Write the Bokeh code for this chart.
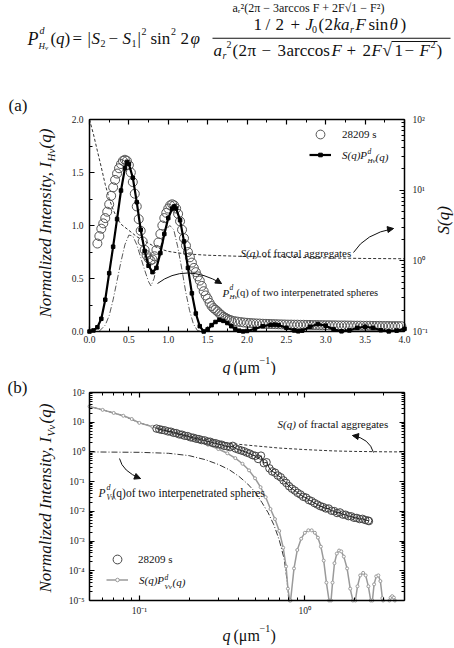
import math
from bokeh.plotting import figure
from bokeh.models import (Range1d, LogScale, LinearAxis, LogAxis, FixedTicker,
                          SingleIntervalTicker, PrintfTickFormatter,
                          CustomJSTickFormatter, Label, Legend, LegendItem, Arrow,
                          NormalHead, BoxAnnotation)
from bokeh.layouts import column
from bokeh.embed import file_html
from bokeh.resources import INLINE

FONT = "Liberation Serif, Times New Roman, serif"
INK = "#111111"
NAN = float("nan")

# ---------------- panel (a) data ----------------
qa_data = [0.100, 0.125, 0.150, 0.175, 0.200, 0.225, 0.250, 0.275, 0.300, 0.325,
           0.350, 0.375, 0.400, 0.425, 0.450, 0.475, 0.500, 0.525, 0.550, 0.575,
           0.600, 0.625, 0.650, 0.675, 0.700, 0.725, 0.750, 0.775, 0.800, 0.825,
           0.850, 0.875, 0.900, 0.925, 0.950, 0.975, 1.000, 1.025, 1.050, 1.075,
           1.100, 1.125, 1.150, 1.175, 1.200, 1.225, 1.250, 1.275, 1.300, 1.325,
           1.350, 1.375, 1.400, 1.425, 1.450, 1.475, 1.500, 1.525, 1.550, 1.575,
           1.600, 1.625, 1.650, 1.675, 1.700, 1.725, 1.750, 1.775, 1.800,
           1.84, 1.88, 1.92, 1.96, 2.00, 2.04, 2.08, 2.12, 2.16, 2.20,
           2.24, 2.28, 2.32, 2.36, 2.40, 2.44, 2.48, 2.52, 2.56, 2.60,
           2.64, 2.68, 2.72, 2.76, 2.80, 2.84, 2.88, 2.92, 2.96, 3.00,
           3.04, 3.08, 3.12, 3.16, 3.20, 3.24, 3.28, 3.32, 3.36, 3.40,
           3.44, 3.48, 3.52, 3.56, 3.60, 3.64, 3.68, 3.72, 3.76, 3.80,
           3.84, 3.88, 3.92, 3.96]
Ia_data = [0.83, 0.90, 0.97, 1.02, 1.07, 1.13, 1.20, 1.28, 1.36, 1.43,
           1.49, 1.54, 1.58, 1.61, 1.62, 1.61, 1.57, 1.50, 1.41, 1.30,
           1.18, 1.06, 0.95, 0.85, 0.77, 0.72, 0.69, 0.67, 0.68, 0.71,
           0.77, 0.84, 0.92, 1.00, 1.07, 1.12, 1.16, 1.19, 1.20, 1.19,
           1.16, 1.11, 1.04, 0.96, 0.88, 0.81, 0.75, 0.70, 0.65, 0.60,
           0.56, 0.52, 0.48, 0.43, 0.38, 0.34, 0.31, 0.27, 0.24, 0.22,
           0.205, 0.19, 0.17, 0.155, 0.14, 0.13, 0.12, 0.11, 0.105,
           0.098, 0.093, 0.089, 0.085, 0.082, 0.080, 0.078, 0.076, 0.075, 0.073,
           0.072, 0.071, 0.070, 0.069, 0.068, 0.067, 0.066, 0.065, 0.065, 0.064,
           0.064, 0.063, 0.063, 0.062, 0.062, 0.061, 0.061, 0.060, 0.060, 0.059,
           0.059, 0.058, 0.058, 0.057, 0.057, 0.057, 0.056, 0.056, 0.055, 0.055,
           0.055, 0.054, 0.054, 0.054, 0.053, 0.053, 0.053, 0.052, 0.052, 0.052,
           0.051, 0.051, 0.051, 0.050]

qa_fit = [0.0, 0.05, 0.1, 0.15, 0.2, 0.25, 0.3, 0.35, 0.4, 0.45,
          0.475, 0.5, 0.55, 0.6, 0.65, 0.7, 0.75, 0.8, 0.85, 0.9,
          0.95, 1.0, 1.05, 1.075, 1.1, 1.15, 1.2, 1.25, 1.3, 1.35,
          1.4, 1.45, 1.5, 1.55, 1.6, 1.65, 1.7, 1.75, 1.8, 1.85,
          1.9, 1.95, 2.0, 2.1, 2.2, 2.3, 2.35, 2.4, 2.5, 2.6,
          2.65, 2.7, 2.8, 2.9, 3.0, 3.1, 3.2, 3.3, 3.4, 3.5,
          3.6, 3.7, 3.8, 3.9, 4.0]
Ia_fit = [0.0, 0.01, 0.04, 0.12, 0.3, 0.55, 0.8, 1.06, 1.33, 1.54,
          1.6, 1.58, 1.45, 1.22, 0.96, 0.76, 0.62, 0.56, 0.6, 0.74,
          0.92, 1.07, 1.16, 1.18, 1.16, 1.05, 0.85, 0.6, 0.36, 0.17,
          0.05, 0.0, 0.02, 0.06, 0.09, 0.11, 0.1, 0.08, 0.05, 0.025,
          0.008, 0.001, 0.005, 0.025, 0.05, 0.063, 0.065, 0.06, 0.035, 0.01,
          0.002, 0.008, 0.045, 0.07, 0.055, 0.02, 0.002, 0.01, 0.035, 0.045,
          0.035, 0.012, 0.001, 0.008, 0.025]

qa_S = [0.0, 0.05, 0.1, 0.15, 0.2, 0.25, 0.3, 0.35, 0.4, 0.5, 0.6,
        0.7, 0.8, 0.9, 1.0, 1.2, 1.5, 2.0, 2.5, 3.0, 3.5, 4.0]
Sa = [100, 62, 36, 21, 12, 7.6, 5.3, 4.0, 3.3, 2.7, 2.2,
      1.9, 1.65, 1.47, 1.36, 1.26, 1.2, 1.15, 1.12, 1.1, 1.08, 1.07]

qa_P = [0.12, 0.2, 0.25, 0.3, 0.35, 0.4, 0.45, 0.5, 0.55, 0.6, 0.65, 0.7, 0.75, 0.78,
        0.82, 0.87, 0.92, 0.97, 1.02, 1.07, 1.12, 1.17, 1.22, 1.27, 1.32, 1.37, 1.42]
Pa = [0.0, 0.06, 0.15, 0.3, 0.48, 0.66, 0.82, 0.91, 0.9, 0.82, 0.7, 0.58, 0.47, 0.43,
      0.5, 0.68, 0.85, 0.96, 1.0, 0.96, 0.8, 0.6, 0.38, 0.2, 0.07, 0.01, 0.0]

# ---------------- panel (b) data ----------------
qb_data = [0.127, 0.132, 0.137, 0.143, 0.149, 0.155, 0.161, 0.167, 0.174, 0.181,
           0.188, 0.196, 0.204, 0.212, 0.220, 0.229, 0.238, 0.248, 0.258, 0.268,
           0.279, 0.290, 0.302, 0.314, 0.326, 0.339, 0.353, 0.367, 0.382, 0.397,
           0.413, 0.429, 0.446, 0.464, 0.483, 0.502, 0.522, 0.543, 0.565, 0.587,
           0.611, 0.635, 0.661, 0.687, 0.715, 0.743, 0.773, 0.804, 0.836, 0.870,
           0.904, 0.941, 0.978, 1.017, 1.058, 1.100, 1.144, 1.190, 1.238, 1.287,
           1.339, 1.392, 1.448, 1.506, 1.566, 1.629, 1.694, 1.762, 1.832, 1.906,
           1.982, 2.061, 2.144, 2.229, 2.318, 2.411, 2.44]
Ib_data = [6.1, 5.8, 5.5, 5.3, 4.9, 4.8, 4.4, 4.3, 3.9, 3.8,
           3.5, 3.4, 3.1, 3.0, 2.8, 2.7, 2.5, 2.45, 2.25, 2.2,
           2.0, 1.95, 1.8, 1.75, 1.6, 1.55, 1.45, 1.6, 1.3, 1.2,
           1.12, 1.05, 0.95, 0.88, 0.78, 0.74, 0.58, 0.75, 0.42, 0.45,
           0.28, 0.22, 0.2, 0.16, 0.14, 0.11, 0.09, 0.07, 0.058, 0.05,
           0.042, 0.037, 0.031, 0.029, 0.024, 0.022, 0.019, 0.017, 0.015, 0.014,
           0.0125, 0.0125, 0.0105, 0.0102, 0.0088, 0.0092, 0.0078, 0.0077, 0.0069, 0.0068,
           0.0061, 0.006, 0.0055, 0.0056, 0.0051, 0.0049, 0.0047]

# S(q)P(q) model: main branch, then the side lobes (NaN separates the lobes)
qb_fit = [0.05, 0.06, 0.07, 0.08, 0.09, 0.10, 0.12, 0.14, 0.16, 0.18,
          0.20, 0.23, 0.26, 0.30, 0.34, 0.38, 0.42, 0.46, 0.50, 0.54,
          0.58, 0.62, 0.66, 0.70, 0.74, 0.77, 0.79, 0.81, NAN,
          0.82, 0.86, 0.90, 0.95, 1.00, 1.05, 1.10, 1.15, 1.20, 1.25, 1.30, 1.35, 1.40, NAN,
          1.44, 1.47, 1.51, 1.56, 1.61, 1.66, 1.72, 1.80, 1.88, 1.95, NAN,
          2.02, 2.08, 2.16, 2.25, 2.33, 2.42, 2.50, NAN,
          2.56, 2.62, 2.70, 2.78, 2.86, 2.94, 2.97, NAN,
          3.24, 3.30, 3.37, 3.45, 3.50]
Ib_fit = [34, 26, 20.5, 16.5, 12.8, 9.5, 7.0, 5.5, 4.4, 3.6,
          3.0, 2.3, 1.75, 1.25, 0.9, 0.62, 0.4, 0.24, 0.13, 0.065,
          0.03, 0.012, 0.0055, 0.0022, 6e-4, 1.4e-4, 2.5e-5, 1e-5, NAN,
          1e-5, 1.2e-4, 5e-4, 1.2e-3, 1.9e-3, 2.3e-3, 2.3e-3, 1.9e-3, 1.3e-3, 6.5e-4, 2.2e-4, 4e-5, 1e-5, NAN,
          1e-5, 4e-5, 1.8e-4, 3.8e-4, 4.8e-4, 4.5e-4, 3e-4, 1.2e-4, 2.5e-5, 1e-5, NAN,
          1e-5, 3e-5, 7e-5, 8.5e-5, 7e-5, 3e-5, 1e-5, NAN,
          1e-5, 3.5e-5, 6.5e-5, 7e-5, 4.5e-5, 1.2e-5, 1e-5, NAN,
          1e-5, 1.25e-5, 1.4e-5, 1.25e-5, 1e-5]

qb_S = [0.05, 0.06, 0.07, 0.08, 0.1, 0.12, 0.15, 0.2, 0.25, 0.3, 0.4, 0.5, 0.7, 1.0, 1.5, 2.0, 3.0, 4.0]
Sb = [34, 26, 20.5, 16.5, 9.5, 7.2, 5.2, 3.5, 2.7, 2.2, 1.8, 1.6, 1.35, 1.2, 1.08, 1.04, 1.01, 1.0]

qb_P = [0.05, 0.1, 0.15, 0.2, 0.25, 0.3, 0.35, 0.4, 0.45, 0.5, 0.55, 0.6, 0.65, 0.7, 0.75, 0.78, 0.80]
Pb = [1.0, 0.97, 0.9, 0.75, 0.55, 0.38, 0.25, 0.15, 0.085, 0.045, 0.02, 0.009, 0.0035, 0.0011,
      2.5e-4, 5e-5, 1e-5]

# ---------------- geometry (page pixels) ----------------
W = 454
FL, FR = 89, 404                 # plot box left/right
A_Y0, A_Y1 = 95, 375             # canvas of panel (a)
A_TOP, A_BOT = 119, 331          # plot box of panel (a)
B_Y0, B_Y1 = 375, 648            # canvas of panel (b)
B_TOP, B_BOT = 392, 600          # plot box of panel (b)
LX0, LX1 = math.log10(0.05), math.log10(4.0)


def A(px, py):
    return ((px - FL) * 4.0 / (FR - FL), (A_BOT - py) * 2.0 / (A_BOT - A_TOP))


def A_S(py):
    return 10 ** (-1 + (A_BOT - py) * 3.0 / (A_BOT - A_TOP))


def B(px, py):
    lx = LX0 + (px - FL) / (FR - FL) * (LX1 - LX0)
    ly = -5 + (B_BOT - py) / (B_BOT - B_TOP) * 7
    return (10 ** lx, 10 ** ly)


def txt(p, xy, text, size, italic=False, angle=0.0, align="left"):
    p.add_layout(Label(x=xy[0], y=xy[1], text=text, text_font=FONT,
                       text_font_size=f"{size}px",
                       text_font_style="italic" if italic else "normal",
                       angle=angle, text_align=align, text_baseline="middle",
                       text_color=INK))


SUP_JS = """
const sup = {"-": "\u207b", "0": "\u2070", "1": "\u00b9", "2": "\u00b2", "3": "\u00b3",
             "4": "\u2074", "5": "\u2075", "6": "\u2076", "7": "\u2077", "8": "\u2078", "9": "\u2079"};
const e = Math.round(Math.log10(tick));
return "10" + String(e).split("").map(c => sup[c]).join("");
"""


def style(ax, show=True, size="9.5px", standoff=5):
    ax.axis_line_width = 1.5
    ax.axis_line_color = "black"
    ax.major_tick_in = 5
    ax.major_tick_out = 0
    ax.minor_tick_in = 3
    ax.minor_tick_out = 0
    ax.major_tick_line_width = 1.2
    ax.minor_tick_line_width = 1.0
    ax.major_tick_line_color = "black"
    ax.minor_tick_line_color = "black"
    if show:
        ax.major_label_text_font = FONT
        ax.major_label_text_font_size = size
        ax.major_label_text_color = "#222222"
        ax.major_label_standoff = standoff
    else:
        ax.major_label_text_color = None
        ax.major_label_text_font_size = "1px"
        ax.major_label_standoff = 0


def minor_log(e0, e1, lo, hi):
    return [m * 10.0 ** e for e in range(e0, e1) for m in range(2, 10)
            if lo <= m * 10.0 ** e <= hi]


def curved_arrow(p, start, ctrl, end):
    p.quadratic(x0=[start[0]], y0=[start[1]], x1=[end[0]], y1=[end[1]],
                cx=[ctrl[0]], cy=[ctrl[1]], line_color=INK, line_width=1)
    p.add_layout(Arrow(end=NormalHead(size=6, fill_color=INK, line_color=INK, line_width=1),
                       x_start=ctrl[0], y_start=ctrl[1], x_end=end[0], y_end=end[1],
                       line_alpha=0))


def one_legend(p, label, renderers, cx, cy, gh, italic, standoff, size="11px"):
    # cx: page x of swatch centre; cy: swatch centre measured up from canvas bottom
    lg = Legend(items=[LegendItem(label=label, renderers=renderers)],
                location=(cx - 11, cy - gh / 2),
                border_line_color=None, background_fill_alpha=0, padding=0, margin=0,
                spacing=0, glyph_width=22, glyph_height=gh, label_height=gh,
                label_standoff=standoff, label_text_font=FONT, label_text_font_size=size,
                label_text_font_style="italic" if italic else "normal",
                label_text_color=INK)
    p.add_layout(lg)


# ---------------- header formula ----------------
ph = figure(width=W, height=95, x_range=Range1d(0, W), y_range=Range1d(95, 0),
            output_backend="svg", toolbar_location=None,
            x_axis_location=None, y_axis_location=None, min_border=0)
ph.grid.visible = False
ph.outline_line_color = None

main_parts = [("P", 27, 38, 18, True), ("d", 39, 30, 10, True), ("H", 38, 45, 9, True),
              ("v", 44.5, 47.5, 7, True), ("(", 50, 38, 17, False), ("q", 55.5, 38, 17, True),
              (")", 64, 38, 17, False), ("=", 72, 38, 17, False), ("|", 87, 38, 17, False),
              ("S", 91, 38, 17, True), ("2", 100, 43, 10, False), ("\u2212", 108, 38, 17, False),
              ("S", 122, 38, 17, True), ("1", 131, 43, 10, False), ("|", 137, 38, 17, False),
              ("2", 141, 31, 10, False), ("sin", 150, 38, 17, False), ("2", 170.5, 31, 10, False),
              ("2", 180, 38, 17, False), ("\u03c6", 190, 38, 17, True)]
num_parts = [("1", 253, 0, 17, False), ("/", 265, 0, 17, False), ("2", 275, 0, 17, False),
             ("+", 290, 0, 17, False), ("J", 305, 0, 17, True), ("0", 311.5, 5, 10, False),
             ("(", 318, 0, 17, False), ("2", 324, 0, 17, False), ("ka", 333, 0, 17, True),
             ("r", 349.5, 5, 10, True), ("F", 355, 0, 17, True), ("sin", 368, 0, 17, False),
             ("\u03b8", 389, 0, 17, True), (")", 400, 0, 17, False)]
den_parts = [("a", 213, 0, 17, True), ("r", 222, 5, 10, True), ("2", 226, -6, 10, False),
             ("(", 232, 0, 17, False), ("2", 238, 0, 17, False), ("\u03c0", 247, 0, 17, False),
             ("\u2212", 261, 0, 17, False), ("3", 277, 0, 17, False), ("arccos", 286, 0, 17, False),
             ("F", 331, 0, 17, True), ("+", 346, 0, 17, False), ("2", 362, 0, 17, False),
             ("F", 371, 0, 17, True), ("\u221a", 382, 0, 17, False), ("1", 394, 0, 17, False),
             ("\u2212", 404, 0, 17, False), ("F", 419, 0, 17, True), ("2", 430, -6, 10, False),
             (")", 436, 0, 17, False)]

for t, x, y, s, it in main_parts:
    txt(ph, (x, y), t, s, it)
for t, x, dy, s, it in num_parts:
    txt(ph, (x, 24 + dy), t, s, it)
for t, x, dy, s, it in den_parts:
    txt(ph, (x, 50 + dy), t, s, it)
# tail of the preceding formula at the very top of the page
txt(ph, (232, 7), "a\u1d63\u00b2(2\u03c0 \u2212 3arccos F + 2F\u221a1 \u2212 F\u00b2)", 12)
ph.add_layout(BoxAnnotation(left=212, right=450, top=37.2, bottom=38.3,
                            fill_color=INK, fill_alpha=1, line_color=None))
ph.add_layout(BoxAnnotation(left=391, right=437, top=40.5, bottom=41.4,
                            fill_color=INK, fill_alpha=1, line_color=None))

# ---------------- panel (a) ----------------
pa = figure(width=W, height=A_Y1 - A_Y0,
            x_range=Range1d(A(0, 0)[0], A(W, 0)[0]),
            y_range=Range1d(A(0, A_Y1)[1], A(0, A_Y0)[1]),
            output_backend="svg", toolbar_location=None,
            x_axis_location=None, y_axis_location=None, min_border=0)
pa.grid.visible = False
pa.outline_line_color = None
pa.extra_y_ranges = {"S": Range1d(A_S(A_Y1), A_S(A_Y0))}
pa.extra_y_scales = {"S": LogScale()}

ax = LinearAxis(ticker=SingleIntervalTicker(interval=0.5, num_minor_ticks=2),
                formatter=PrintfTickFormatter(format="%.1f"), fixed_location=0, bounds=(0, 4))
style(ax, standoff=4)
pa.add_layout(ax, "below")
ax = LinearAxis(ticker=SingleIntervalTicker(interval=0.5, num_minor_ticks=2),
                fixed_location=2, bounds=(0, 4))
style(ax, show=False)
pa.add_layout(ax, "above")
ax = LinearAxis(ticker=SingleIntervalTicker(interval=0.5, num_minor_ticks=2),
                formatter=PrintfTickFormatter(format="%.1f"), fixed_location=0, bounds=(0, 2))
style(ax, standoff=6)
pa.add_layout(ax, "left")
ax = LogAxis(y_range_name="S",
             ticker=FixedTicker(ticks=[0.1, 1, 10, 100], minor_ticks=minor_log(-1, 2, 0.1, 100)),
             formatter=CustomJSTickFormatter(code=SUP_JS), fixed_location=4, bounds=(0.1, 100))
style(ax, standoff=8)
pa.add_layout(ax, "right")

pa.line(qa_S, Sa, y_range_name="S", line_color="#333333", line_width=1, line_dash="3 2")
pa.line(qa_P, Pa, line_color="#444444", line_width=0.9, line_dash="6 2 1 2")
circ_a = pa.scatter(qa_data, Ia_data, marker="circle", size=9, line_color="#555555",
                    line_width=1, fill_color=None)
fit_a_line = pa.line(qa_fit, Ia_fit, line_color="black", line_width=2.2)
fit_a_pts = pa.scatter(qa_fit, Ia_fit, marker="square", size=3.5, line_color="black",
                       fill_color="black")

one_legend(pa, "28209 s", [circ_a], 320, A_Y1 - 134, 22, False, 11)
one_legend(pa, "S(q)P", [fit_a_line, fit_a_pts], 320, A_Y1 - 156, 9, True, 11)
txt(pa, A(367, 151), "d", 7.5, True)
txt(pa, A(367, 160), "Hv", 7, True)
txt(pa, A(375, 156), "(q)", 11, True)

txt(pa, A(240, 252), "S(q)", 11, True)
txt(pa, A(261, 252), "of fractal aggregates", 11)
txt(pa, A(222, 292), "P", 11, True)
txt(pa, A(229, 287), "d", 7.5, True)
txt(pa, A(229, 296), "Hv", 7, True)
txt(pa, A(236, 292), "(q) of two interpenetrated spheres", 10.5)
curved_arrow(pa, A(353, 252), A(365, 233), A(393, 228))
curved_arrow(pa, A(157, 283), A(185, 262), A(221, 283))

txt(pa, A(8, 105), "(a)", 17)
txt(pa, A(45, 317), "Normalized Intensity, I", 17, True, angle=math.pi / 2)
txt(pa, A(50, 161), "Hv", 11, True, angle=math.pi / 2)
txt(pa, A(45, 148), "(q)", 17, True, angle=math.pi / 2)
txt(pa, A(443, 234), "S(q)", 17, True, angle=math.pi / 2)
txt(pa, A(222, 367), "q", 16, True)
txt(pa, A(233, 367), "(\u03bcm", 16)
txt(pa, A(259, 360), "\u22121", 10)
txt(pa, A(270, 367), ")", 16)

# ---------------- panel (b) ----------------
pb = figure(width=W, height=B_Y1 - B_Y0, x_axis_type="log", y_axis_type="log",
            x_range=Range1d(B(0, 0)[0], B(W, 0)[0]),
            y_range=Range1d(B(0, B_Y1)[1], B(0, B_Y0)[1]),
            output_backend="svg", toolbar_location=None,
            x_axis_location=None, y_axis_location=None, min_border=0)
pb.grid.visible = False
pb.outline_line_color = None

xt = dict(ticks=[0.1, 1], minor_ticks=minor_log(-2, 1, 0.05, 4))
yt = dict(ticks=[10.0 ** e for e in range(-5, 3)], minor_ticks=minor_log(-5, 2, 1e-5, 100))
ax = LogAxis(ticker=FixedTicker(**xt), formatter=CustomJSTickFormatter(code=SUP_JS),
             fixed_location=1e-5, bounds=(0.05, 4))
style(ax, standoff=5)
pb.add_layout(ax, "below")
ax = LogAxis(ticker=FixedTicker(**xt), fixed_location=100, bounds=(0.05, 4))
style(ax, show=False)
pb.add_layout(ax, "above")
ax = LogAxis(ticker=FixedTicker(**yt), formatter=CustomJSTickFormatter(code=SUP_JS),
             fixed_location=0.05, bounds=(1e-5, 100))
style(ax, standoff=5)
pb.add_layout(ax, "left")
ax = LogAxis(ticker=FixedTicker(**yt), fixed_location=4, bounds=(1e-5, 100))
style(ax, show=False)
pb.add_layout(ax, "right")

pb.line(qb_S, Sb, line_color="#333333", line_width=1, line_dash="3 2")
pb.line(qb_P, Pb, line_color="#333333", line_width=1, line_dash="6 2 1 2")
fit_b_line = pb.line(qb_fit, Ib_fit, line_color="#9a9a9a", line_width=1.5)
fit_b_pts = pb.scatter(qb_fit, Ib_fit, marker="circle", size=3, line_color="#9a9a9a",
                       fill_color="white")
circ_b = pb.scatter(qb_data, Ib_data, marker="circle", size=7.5, line_color="#444444",
                    line_width=1, fill_color=None)
pb.line(qb_data, Ib_data, line_color="#222222", line_width=1)

one_legend(pb, "28209 s", [circ_b], 117, B_Y1 - 559, 22, False, 10)
one_legend(pb, "S(q)P", [fit_b_line, fit_b_pts], 117, B_Y1 - 581, 9, True, 11)
txt(pb, B(164, 577), "d", 7.5, True)
txt(pb, B(164, 586), "Vv", 7, True)
txt(pb, B(172, 581), "(q)", 11, True)

txt(pb, B(277, 423), "S(q)", 11, True)
txt(pb, B(298, 423), "of fractal aggregates", 11)
txt(pb, B(98, 492), "P", 11.5, True)
txt(pb, B(106, 487), "d", 8, True)
txt(pb, B(106, 497), "Vv", 7.5, True)
txt(pb, B(112, 492), "(q)of two interpenetrated spheres", 11.5)
curved_arrow(pb, B(373, 452), B(369, 438), B(352, 435))
curved_arrow(pb, B(119, 458), B(122, 471), B(140, 478))

txt(pb, B(7, 387), "(b)", 17)
txt(pb, B(45, 592), "Normalized Intensity, I", 17, True, angle=math.pi / 2)
txt(pb, B(50, 436), "Vv", 11, True, angle=math.pi / 2)
txt(pb, B(45, 423), "(q)", 17, True, angle=math.pi / 2)
txt(pb, B(222, 635), "q", 16, True)
txt(pb, B(233, 635), "(\u03bcm", 16)
txt(pb, B(259, 628), "\u22121", 10)
txt(pb, B(270, 635), ")", 16)

layout = column(ph, pa, pb)
open("out.html", "w").write(file_html(layout, INLINE, "chart"))
